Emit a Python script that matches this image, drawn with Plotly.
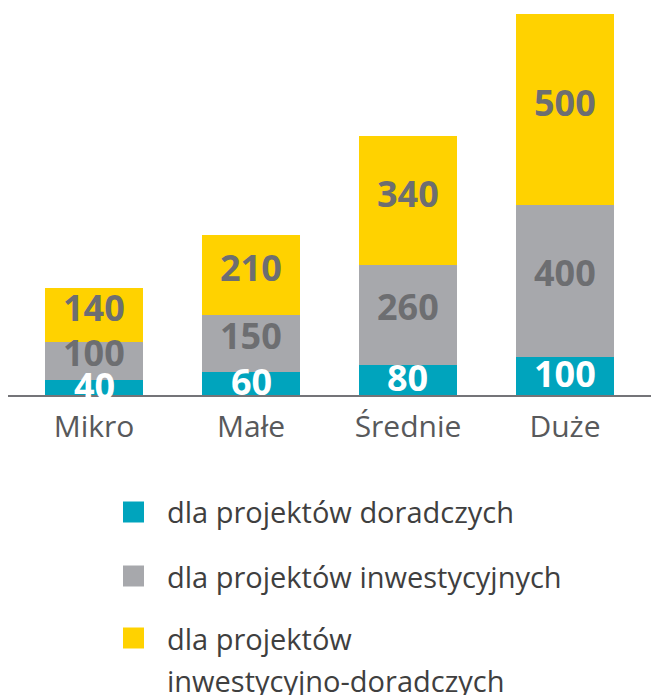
import plotly.graph_objects as go

categories = ["Mikro", "Małe", "Średnie", "Duże"]
doradcze = [40, 60, 80, 100]
inwestycyjne = [100, 150, 260, 400]
inwest_doradcze = [140, 210, 340, 500]
series_names = ["dla projektów doradczych",
                "dla projektów inwestycyjnych",
                "dla projektów<br>inwestycyjno-doradczych"]
series_values = [doradcze, inwestycyjne, inwest_doradcze]
colors = ["#00a4bd", "#a7a8ac", "#ffd200"]
label_colors = ["#ffffff", "#6d6e71", "#6d6e71"]
label_lift = [2, 8, 7]  # px nudge of value labels per series

# page has an 8px body margin; figure sized to fit the window
OFF = 8
W, H = 651, 687
ML, MR, MT, MB = 0, 0, 6, 300
PW, PH = W - ML - MR, H - MT - MB

def px_x(p):  # screen px -> paper
    return (p - OFF - ML) / PW

def px_y(p):
    return (H - MB - (p - OFF)) / PH

fig = go.Figure()
base = [0] * len(categories)
for name, vals, col, lc, lift in zip(series_names, series_values, colors, label_colors, label_lift):
    fig.add_trace(go.Bar(
        x=categories, y=vals, name=name,
        marker=dict(color=col, line=dict(width=0)),
        showlegend=False, hoverinfo="x+y",
    ))
    for c, b, v in zip(categories, base, vals):
        fig.add_annotation(x=c, y=b + v / 2, text=str(v), showarrow=False,
                           xanchor="center", yanchor="middle", yshift=lift,
                           font=dict(family="Open Sans", size=36, color=lc, weight=700))
    base = [b + v for b, v in zip(base, vals)]

# legend drawn manually (large square swatches)
row_centers = [512, 576, 638]
for name, col, yc in zip(series_names, colors, row_centers):
    fig.add_shape(type="rect", xref="paper", yref="paper",
                  x0=px_x(123), x1=px_x(144), y0=px_y(yc - 10.5), y1=px_y(yc + 10.5),
                  fillcolor=col, line=dict(width=0))
    for i, line in enumerate(name.split("<br>")):
        fig.add_annotation(xref="paper", yref="paper", x=px_x(165), y=px_y(yc + 42 * i),
                           text=line, showarrow=False, xanchor="left", yanchor="middle",
                           font=dict(family="Open Sans", size=29, color="#3f3f3f"))

fig.update_layout(
    width=W, height=H,
    margin=dict(l=ML, r=MR, t=MT, b=MB, pad=0),
    barmode="stack", bargap=0.376,
    plot_bgcolor="white", paper_bgcolor="white",
    xaxis=dict(range=[-0.548, 3.599], showline=True, linecolor="#747478", linewidth=2,
               showgrid=False, zeroline=False, ticks="", ticklabelstandoff=4,
               tickfont=dict(family="Open Sans", size=30, color="#58595b")),
    yaxis=dict(range=[0, 1000], visible=False, showgrid=False, zeroline=False),
)

fig.write_html("out.html")
